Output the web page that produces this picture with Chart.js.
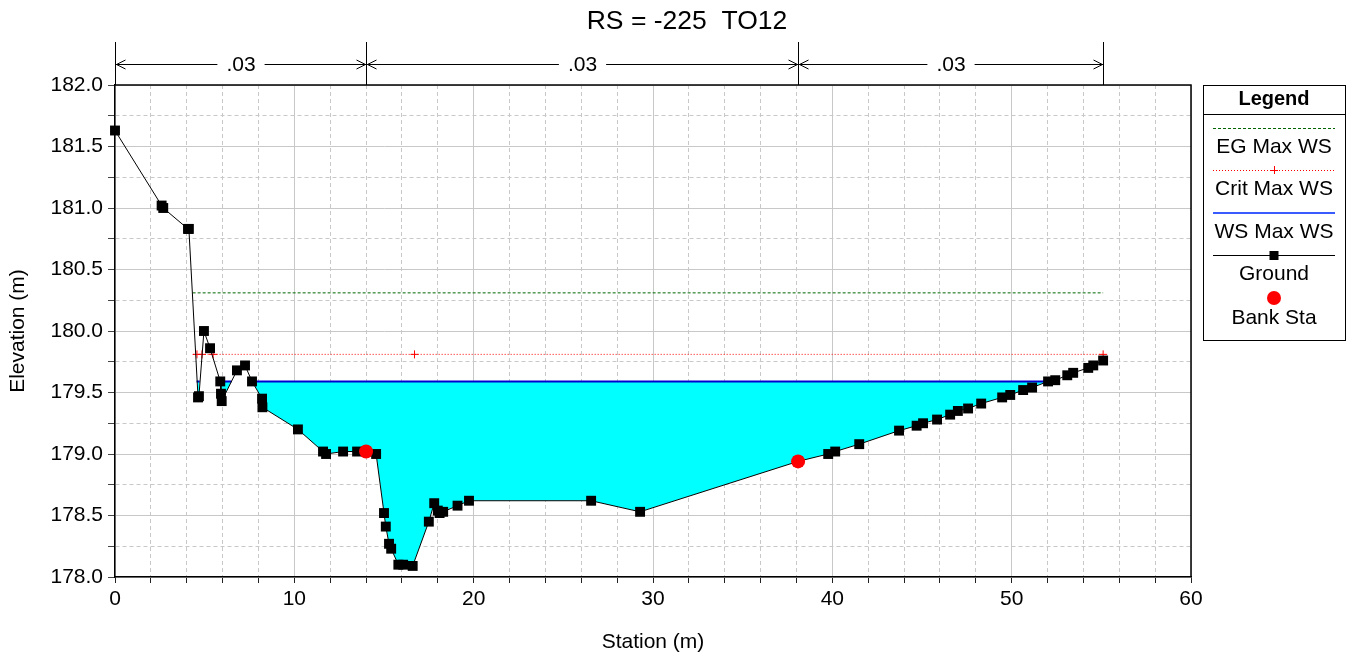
<!DOCTYPE html>
<html>
<head>
<meta charset="utf-8">
<script src="https://cdn.jsdelivr.net/npm/chart.js@4.4.0/dist/chart.umd.min.js"></script>
<style>
  body { margin: 0; background: #fff; }
</style>
</head>
<body>
<canvas id="xsChart" width="1356" height="659"></canvas>
<script>
// Ground points (station m, elevation m)
const groundStation = [0, 2.6, 2.69, 4.07, 4.12, 4.63, 4.68, 4.96, 5.30, 5.87, 5.91, 5.95, 6.80, 7.25, 7.64, 8.20, 8.22,
    10.20, 11.60, 11.77, 12.72, 13.50, 14.0, 14.56, 15.00, 15.10, 15.28, 15.40, 15.80, 16.07, 16.60, 17.50, 17.80,
    18.00, 18.10, 18.30, 19.10, 19.74, 26.55, 29.28, 38.09, 39.77, 40.16, 41.50, 43.72, 44.70, 45.06, 45.84, 46.57,
    47.00, 47.57, 48.30, 49.47, 49.92, 50.64, 51.14, 52.03, 52.43, 53.10, 53.43, 54.27, 54.55, 55.10]
const groundElev = [181.63, 181.02, 181.00, 180.83, 180.83, 179.46, 179.47, 180.00, 179.86, 179.59, 179.49, 179.43,
    179.68, 179.72, 179.59, 179.45, 179.38, 179.20, 179.02, 179.00, 179.02, 179.02, 179.02, 179.00, 178.52, 178.41,
    178.27, 178.23, 178.10, 178.10, 178.09, 178.45, 178.60, 178.54, 178.52, 178.53, 178.58, 178.62, 178.62, 178.53,
    178.94, 179.00, 179.02, 179.08, 179.19, 179.23, 179.25, 179.28, 179.32, 179.35, 179.37, 179.41, 179.46, 179.48,
    179.52, 179.54, 179.59, 179.60, 179.64, 179.66, 179.70, 179.72, 179.76]

// Bank stations
const bankStation = [14.0, 38.09]
const bankElev = [179.02, 178.94]

// Water surface (wet reaches only, null = gap)
const wsStation = [4.55, 4.72, null, 5.85, 6.5, null, 7.64, 52.05]
const wsElev = 179.59

// Energy grade and critical water surface
const egStation = [4.33, 55.10]
const egElev = 180.31
const critStation = [4.33, 4.57, 4.85, 5.47, 16.70, 55.10]
const critMarker = [0, 4, 4, 4, 4, 4]
const critElev = 179.81

// Manning's n breaks along the top
const nBreaks = [0, 14.0, 38.09, 55.10]
const nValues = ['.03', '.03', '.03']

const legendLabels = ['EG Max WS', 'Crit Max WS', 'WS Max WS', 'Ground', 'Bank Sta']

const FONT = "'Liberation Sans', Arial, sans-serif"
Chart.defaults.font.family = FONT
Chart.defaults.color = '#000'

const ground = groundStation.map((x, i) => ({ x: x, y: groundElev[i] }))
const bank = bankStation.map((x, i) => ({ x: x, y: bankElev[i] }))
const ws = wsStation.map(x => ({ x: x === null ? 0 : x, y: x === null ? null : wsElev }))
const eg = egStation.map(x => ({ x: x, y: egElev }))
const crit = critStation.map(x => ({ x: x, y: critElev }))

function isMajorX(v) { return Math.abs(v % 10) < 1e-6 }
function isMajorY(v) { return Math.abs(v * 2 - Math.round(v * 2)) < 1e-6 }

// title, border box, n-value arrows and legend box
const decorations = {
    id: 'decorations',
    afterDraw(chart) {
        const ctx = chart.ctx
        const area = chart.chartArea
        const xs = chart.scales.x
        ctx.save()

        // title
        ctx.fillStyle = '#000'
        ctx.font = '26.5px ' + FONT
        ctx.textAlign = 'center'
        ctx.textBaseline = 'middle'
        ctx.fillText('RS = -225  TO12', 687, 22)

        // top / right frame
        ctx.strokeStyle = '#000'
        ctx.lineWidth = 1.5
        ctx.beginPath()
        ctx.moveTo(area.left, area.top)
        ctx.lineTo(area.right, area.top)
        ctx.lineTo(area.right, area.bottom)
        ctx.stroke()

        // n values
        const ay = 64
        ctx.lineWidth = 1
        ctx.font = '21px ' + FONT
        nBreaks.forEach(b => {
            const px = Math.round(xs.getPixelForValue(b)) + 0.5
            ctx.beginPath()
            ctx.moveTo(px, 42)
            ctx.lineTo(px, area.top)
            ctx.stroke()
        })
        for (let i = 0; i < nValues.length; i++) {
            const x0 = Math.round(xs.getPixelForValue(nBreaks[i])) + 0.5
            const x1 = Math.round(xs.getPixelForValue(nBreaks[i + 1])) + 0.5
            const mid = (x0 + x1) / 2
            const tw = ctx.measureText(nValues[i]).width
            ctx.beginPath()
            ctx.moveTo(x0, ay + 0.5)
            ctx.lineTo(mid - tw / 2 - 9, ay + 0.5)
            ctx.moveTo(mid + tw / 2 + 9, ay + 0.5)
            ctx.lineTo(x1, ay + 0.5)
            // arrowheads
            ctx.moveTo(x0 + 10, ay - 4)
            ctx.lineTo(x0 + 1, ay + 0.5)
            ctx.lineTo(x0 + 10, ay + 5)
            ctx.moveTo(x1 - 10, ay - 4)
            ctx.lineTo(x1 - 1, ay + 0.5)
            ctx.lineTo(x1 - 10, ay + 5)
            ctx.stroke()
            ctx.fillText(nValues[i], mid, ay + 1)
        }

        // legend box
        const lx0 = 1203, lx1 = 1345, ly0 = 85, ly1 = 340
        const cx = (lx0 + lx1) / 2
        ctx.strokeStyle = '#000'
        ctx.lineWidth = 1
        ctx.strokeRect(lx0 + 0.5, ly0 + 0.5, lx1 - lx0, ly1 - ly0)
        ctx.beginPath()
        ctx.moveTo(lx0, 114.5)
        ctx.lineTo(lx1, 114.5)
        ctx.stroke()
        ctx.font = 'bold 20px ' + FONT
        ctx.fillText('Legend', cx, 99)

        const sx0 = 1213, sx1 = 1335
        const lineY = [128, 170, 213, 255, 298]
        const textY = [147, 189, 232, 274, 318]

        // EG
        ctx.strokeStyle = '#006400'
        ctx.setLineDash([3, 2])
        ctx.beginPath(); ctx.moveTo(sx0, lineY[0] + 0.5); ctx.lineTo(sx1, lineY[0] + 0.5); ctx.stroke()
        // Crit
        ctx.strokeStyle = '#ff0000'
        ctx.setLineDash([1, 2])
        ctx.beginPath(); ctx.moveTo(sx0, lineY[1] + 0.5); ctx.lineTo(sx1, lineY[1] + 0.5); ctx.stroke()
        ctx.setLineDash([])
        ctx.beginPath()
        ctx.moveTo(cx - 4, lineY[1] + 0.5); ctx.lineTo(cx + 4, lineY[1] + 0.5)
        ctx.moveTo(cx + 0.5, lineY[1] - 4); ctx.lineTo(cx + 0.5, lineY[1] + 4)
        ctx.stroke()
        // WS
        ctx.strokeStyle = '#3a5cff'
        ctx.lineWidth = 2
        ctx.beginPath(); ctx.moveTo(sx0, lineY[2]); ctx.lineTo(sx1, lineY[2]); ctx.stroke()
        // Ground
        ctx.strokeStyle = '#000'
        ctx.lineWidth = 1
        ctx.beginPath(); ctx.moveTo(sx0, lineY[3] + 0.5); ctx.lineTo(sx1, lineY[3] + 0.5); ctx.stroke()
        ctx.fillStyle = '#000'
        ctx.fillRect(cx - 4.5, lineY[3] - 4, 9, 9)
        // Bank
        ctx.fillStyle = '#ff0000'
        ctx.beginPath(); ctx.arc(cx, lineY[4], 7, 0, Math.PI * 2); ctx.fill()

        ctx.fillStyle = '#000'
        ctx.font = '21px ' + FONT
        legendLabels.forEach((t, i) => ctx.fillText(t, cx, textY[i]))
        ctx.restore()
    }
}

new Chart(document.getElementById('xsChart'), {
    type: 'scatter',
    data: {
        datasets: [
            {
                label: 'Bank Sta',
                data: bank,
                showLine: false,
                clip: false,
                pointStyle: 'circle',
                pointRadius: 7,
                backgroundColor: '#ff0000',
                borderColor: '#ff0000',
                borderWidth: 0
            },
            {
                label: 'Ground',
                data: ground,
                showLine: true,
                clip: false,
                borderColor: '#000',
                borderWidth: 1,
                pointStyle: 'rect',
                pointRadius: 7,
                backgroundColor: '#000',
                pointBorderWidth: 0
            },
            {
                label: 'Crit Max WS',
                data: crit,
                showLine: true,
                clip: false,
                borderColor: '#ff0000',
                borderWidth: 1,
                borderDash: [1, 2],
                pointStyle: 'cross',
                pointRadius: critMarker,
                pointBorderColor: '#ff0000',
                pointBorderWidth: 1
            },
            {
                label: 'EG Max WS',
                data: eg,
                showLine: true,
                borderColor: '#006400',
                borderWidth: 1,
                borderDash: [3, 2],
                pointRadius: 0
            },
            {
                label: 'WS Max WS',
                data: ws,
                showLine: true,
                spanGaps: false,
                borderColor: '#0000d0',
                borderWidth: 2,
                pointRadius: 0,
                fill: { target: 1, above: '#00ffff', below: 'rgba(0,0,0,0)' }
            }
        ]
    },
    options: {
        responsive: false,
        animation: false,
        layout: { padding: { top: 85, right: 165, left: 0, bottom: 0 } },
        plugins: {
            legend: { display: false },
            tooltip: { enabled: false },
            filler: { propagate: false }
        },
        scales: {
            x: {
                type: 'linear',
                position: 'bottom',
                min: 0,
                max: 60,
                ticks: {
                    stepSize: 2,
                    autoSkip: false,
                    maxRotation: 0,
                    padding: 4,
                    color: '#000',
                    font: { size: 21 },
                    callback: v => isMajorX(v) ? v : ''
                },
                grid: { color: '#c8c8c8', tickColor: '#222', tickLength: 6, tickBorderDash: [] },
                border: {
                    color: '#000',
                    width: 1.5,
                    dash: c => (c.tick && !isMajorX(c.tick.value)) ? [4, 3] : []
                },
                title: { display: true, text: 'Station (m)', color: '#000', font: { size: 21 }, padding: { top: 0, bottom: 4 } },
                afterFit: s => { s.height = 82 }
            },
            y: {
                type: 'linear',
                position: 'left',
                min: 178,
                max: 182,
                ticks: {
                    stepSize: 0.25,
                    autoSkip: false,
                    padding: 5,
                    color: '#000',
                    font: { size: 21 },
                    callback: v => isMajorY(v) ? v.toFixed(1) : ''
                },
                grid: { color: '#c8c8c8', tickColor: '#444', tickLength: 7, tickBorderDash: [] },
                border: {
                    color: '#000',
                    width: 1.5,
                    dash: c => (c.tick && !isMajorY(c.tick.value)) ? [4, 3] : []
                },
                title: { display: true, text: 'Elevation (m)', color: '#000', font: { size: 21 }, padding: { top: 6, bottom: 0 } },
                afterFit: s => { s.width = 115 }
            }
        }
    },
    plugins: [decorations]
})
</script>
</body>
</html>
